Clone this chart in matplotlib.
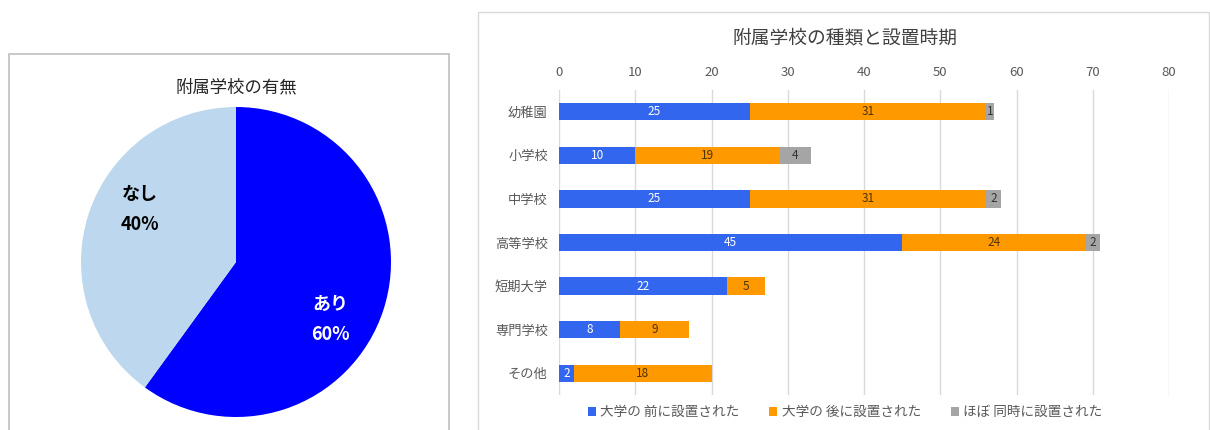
import matplotlib
matplotlib.use("Agg")
import matplotlib.pyplot as plt
from matplotlib.patches import Rectangle
import numpy as np

plt.rcParams['font.family'] = ['Noto Sans CJK JP', 'DejaVu Sans']

# left chart data
pie_labels = ['あり', 'なし']
pie_values = [60, 40]
pie_colors = ['#0000FF', '#BDD7EE']

# right chart data
categories = ['幼稚園', '小学校', '中学校', '高等学校', '短期大学', '専門学校', 'その他']
before = [25, 10, 25, 45, 22, 8, 2]
after = [31, 19, 31, 24, 5, 9, 18]
same = [1, 4, 2, 2, 0, 0, 0]
series_names = ['大学の 前に設置された', '大学の 後に設置された', 'ほぼ 同時に設置された']
series_colors = ['#3366EE', '#FF9900', '#A5A5A5']
label_colors = ['white', '#4D3300', '#333333']

W, H = 1210, 430
fig = plt.figure(figsize=(W / 100, H / 100), dpi=100)

# panel borders
fig.patches.append(Rectangle((9 / W, -0.05), 440 / W, (H - 54) / H + 0.05, transform=fig.transFigure,
                             fill=False, edgecolor='#BFBFBF', linewidth=1.2))
fig.patches.append(Rectangle((478 / W, -0.05), 731 / W, (H - 12) / H + 0.05, transform=fig.transFigure,
                             fill=False, edgecolor='#D9D9D9', linewidth=1.0))

# ---- pie ----
cx, cy, r = 236, 262, 155
ax1 = fig.add_axes([(cx - r) / W, (H - cy - r) / H, 2 * r / W, 2 * r / H])
ax1.pie(pie_values, colors=pie_colors, startangle=90, counterclock=False,
        wedgeprops=dict(linewidth=0))
ax1.set_xlim(-1, 1)
ax1.set_ylim(-1, 1)
ax1.set_aspect('equal')
ax1.text(0.61, -0.37, pie_labels[0] + '\n' + str(pie_values[0]) + '%', color='white',
         fontsize=13, fontweight='bold', ha='center', va='center', linespacing=1.7)
ax1.text(-0.62, 0.34, pie_labels[1] + '\n' + str(pie_values[1]) + '%', color='black',
         fontsize=13, fontweight='bold', ha='center', va='center', linespacing=1.7)
fig.text(236 / W, 1 - 87 / H, '附属学校の有無', ha='center', va='center', fontsize=12.5,
         color='#262626')

# ---- stacked bars ----
ax2 = fig.add_axes([559 / W, 35 / H, 610 / W, 305 / H])
y = np.arange(len(categories))
left = np.zeros(len(categories))
for vals, name, col, lc in zip([before, after, same], series_names, series_colors, label_colors):
    vals = np.array(vals)
    bars = ax2.barh(y, vals, left=left, height=0.4, color=col, label=name)
    for b, v in zip(bars, vals):
        if v > 0:
            ax2.text(b.get_x() + b.get_width() / 2, b.get_y() + b.get_height() / 2, str(v),
                     ha='center', va='center', fontsize=8.5, color=lc)
    left += vals

ax2.set_xlim(0, 80)
ax2.set_ylim(6.5, -0.5)
ax2.set_xticks(range(0, 81, 10))
ax2.xaxis.tick_top()
ax2.set_yticks(y)
ax2.set_yticklabels(categories)
ax2.tick_params(axis='both', length=0, labelsize=9.5, labelcolor='#595959')
ax2.tick_params(axis='x', pad=8)
ax2.tick_params(axis='y', pad=8)
ax2.grid(axis='x', color='#D9D9D9', linewidth=1)
ax2.set_axisbelow(True)
for s in ax2.spines.values():
    s.set_visible(False)

fig.text(845 / W, 1 - 38 / H, '附属学校の種類と設置時期', ha='center', va='center',
         fontsize=13.5, color='#404040')
fig.legend(*ax2.get_legend_handles_labels(), loc='center', bbox_to_anchor=(845 / W, 1 - 412 / H),
           ncol=3, frameon=False, fontsize=9.8, handlelength=0.6, handleheight=0.6,
           handletextpad=0.3, columnspacing=2.2, labelcolor='#595959')

fig.savefig('out.png', dpi=100)
